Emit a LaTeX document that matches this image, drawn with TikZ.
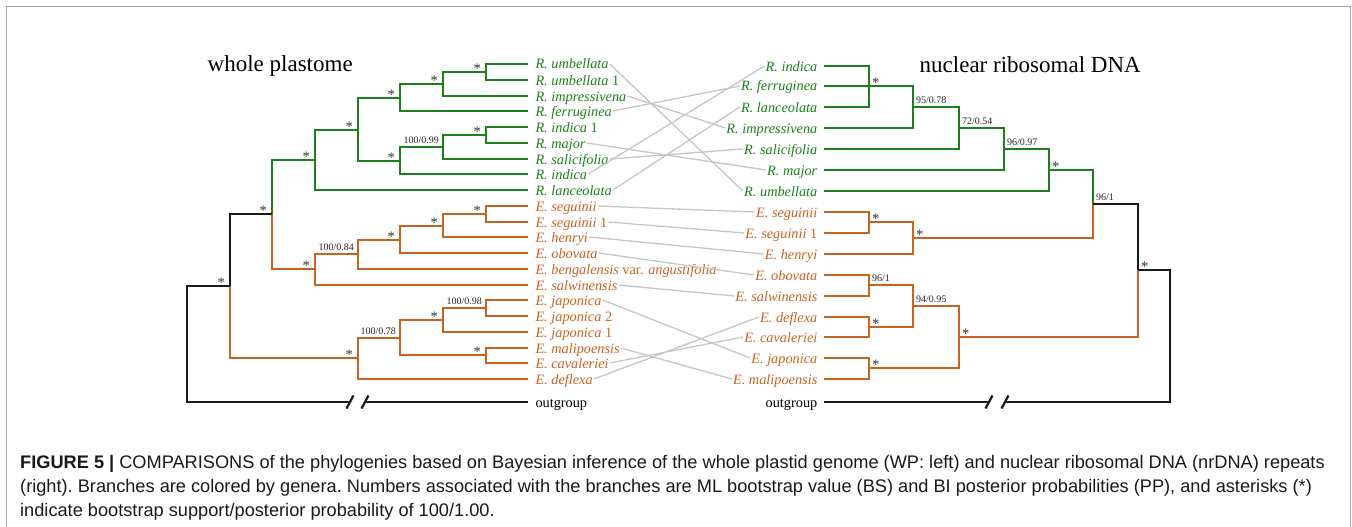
\documentclass[tikz,border=0pt]{standalone}
\usepackage{fontspec}
\setmainfont{Liberation Serif}
\newfontfamily\capfont{Liberation Sans}
\usetikzlibrary{calc}
\definecolor{rgreen}{RGB}{28,128,28}
\definecolor{eorange}{RGB}{202,98,32}
\definecolor{lnk}{RGB}{198,198,198}
\definecolor{frm}{RGB}{165,165,165}
\definecolor{supp}{RGB}{50,50,50}
\tikzset{
  br/.style={line width=2.2pt, line join=miter},
  gbr/.style={br, draw=rgreen},
  obr/.style={br, draw=eorange},
  kbr/.style={br, draw=black!90},
  tax/.style={font=\fontsize{14.3}{16}\selectfont, inner sep=1pt, text height=12pt, text depth=2pt},
  taxL/.style={tax, anchor=west},
  taxR/.style={tax, anchor=east},
  gtx/.style={text=rgreen},
  otx/.style={text=eorange},
  ast/.style={font=\fontsize{14.5}{16}\selectfont, inner sep=0pt, text=supp},
  num/.style={font=\fontsize{10}{12}\selectfont, inner sep=0pt, text=black!85},
  link/.style={draw=lnk, line width=1.3pt},
  brk/.style={line width=2.2pt, draw=black!90},
  ttl/.style={font=\fontsize{23}{26}\selectfont, inner sep=0pt, anchor=base west},
  capline/.style={font=\capfont\fontsize{18.2}{20}\selectfont\frenchspacing, inner sep=0pt, anchor=base west, text=black!90}
}
\begin{document}
\begin{tikzpicture}[x=1pt,y=-1pt]
\useasboundingbox (0,0) rectangle (1352,527);
\draw[frm, line width=1.5pt] (6.5,527) -- (6.5,6.5) -- (1350.5,6.5) -- (1350.5,527);

% titles
\node[ttl] (t1) at (207.5,71) {whole plastome};
\node[ttl] (t2) at (919.5,72.5) {nuclear ribosomal DNA};

% ---------- left tree ----------
\draw[gbr] (528,64) -- (486,64) -- (486,80) -- (528,80);
\draw[gbr] (486,72) -- (443,72) -- (443,96) -- (528,96);
\draw[gbr] (443,84) -- (400,84) -- (400,111) -- (528,111);
\draw[gbr] (528,127) -- (486,127) -- (486,143) -- (528,143);
\draw[gbr] (486,135) -- (443,135) -- (443,159) -- (528,159);
\draw[gbr] (443,147) -- (400,147) -- (400,174) -- (528,174);
\draw[gbr] (400,98) -- (358,98) -- (358,161) -- (400,161);
\draw[gbr] (358,130) -- (315,130) -- (315,190) -- (528,190);
\draw[gbr] (315,160) -- (272,160) -- (272,214);
\draw[obr] (272,214) -- (272,269) -- (315,269);
\draw[obr] (528,206) -- (486,206) -- (486,222) -- (528,222);
\draw[obr] (486,214) -- (443,214) -- (443,237) -- (528,237);
\draw[obr] (443,226) -- (400,226) -- (400,253) -- (528,253);
\draw[obr] (400,240) -- (358,240) -- (358,269) -- (528,269);
\draw[obr] (358,254) -- (315,254) -- (315,285) -- (528,285);
\draw[obr] (528,300) -- (486,300) -- (486,316) -- (528,316);
\draw[obr] (486,308) -- (443,308) -- (443,332) -- (528,332);
\draw[obr] (528,348) -- (486,348) -- (486,363) -- (528,363);
\draw[obr] (443,320) -- (400,320) -- (400,355) -- (486,355);
\draw[obr] (400,338) -- (358,338) -- (358,379) -- (528,379);
\draw[kbr] (272,214) -- (230,214) -- (230,286);
\draw[obr] (230,286) -- (230,358) -- (358,358);
\draw[kbr] (230,286) -- (187,286) -- (187,402) -- (350,402);
\draw[kbr] (365,402) -- (528,402);
\draw[brk] (346.5,408.5) -- (353.5,395.5);
\draw[brk] (361.5,408.5) -- (368.5,395.5);

% left support values
\node[ast, anchor=base east] (sn1) at (481,73.5) {*};
\node[ast, anchor=base east] (sn2) at (438,85.5) {*};
\node[ast, anchor=base east] (sn3) at (395,99.5) {*};
\node[ast, anchor=base east] (sn4) at (481,136.5) {*};
\node[num, anchor=base east] (sn5) at (439,143.7) {100/0.99};
\node[ast, anchor=base east] (sn6) at (395,162.5) {*};
\node[ast, anchor=base east] (sn7) at (353,131.5) {*};
\node[ast, anchor=base east] (sn8) at (310,161.5) {*};
\node[ast, anchor=base east] (sre) at (267,215.5) {*};
\node[ast, anchor=base east] (se1) at (481,215.5) {*};
\node[ast, anchor=base east] (se2) at (438,227.5) {*};
\node[ast, anchor=base east] (se3) at (395,241.5) {*};
\node[num, anchor=base east] (se4) at (354,250.7) {100/0.84};
\node[ast, anchor=base east] (se5) at (310,270.5) {*};
\node[num, anchor=base east] (sf1) at (482,304.7) {100/0.98};
\node[ast, anchor=base east] (sf2) at (438,321.5) {*};
\node[ast, anchor=base east] (sf3) at (481,356.5) {*};
\node[num, anchor=base east] (sf4) at (396,334.7) {100/0.78};
\node[ast, anchor=base east] (sf5) at (353,359.5) {*};
\node[ast, anchor=base east] (sg) at (225,287.5) {*};

% left taxa
\node[taxL, gtx] (lL0) at (534.3,64) {\textit{R. umbellata}};
\node[taxL, gtx] (lL1) at (534.3,80) {\textit{R. umbellata} 1};
\node[taxL, gtx] (lL2) at (534.3,96) {\textit{R. impressivena}};
\node[taxL, gtx] (lL3) at (534.3,111) {\textit{R. ferruginea}};
\node[taxL, gtx] (lL4) at (534.3,127) {\textit{R. indica} 1};
\node[taxL, gtx] (lL5) at (534.3,143) {\textit{R. major}};
\node[taxL, gtx] (lL6) at (534.3,159) {\textit{R. salicifolia}};
\node[taxL, gtx] (lL7) at (534.3,174) {\textit{R. indica}};
\node[taxL, gtx] (lL8) at (534.3,190) {\textit{R. lanceolata}};
\node[taxL, otx] (lL9) at (534.3,206) {\textit{E. seguinii}};
\node[taxL, otx] (lL10) at (534.3,222) {\textit{E. seguinii} 1};
\node[taxL, otx] (lL11) at (534.3,237) {\textit{E. henryi}};
\node[taxL, otx] (lL12) at (534.3,253) {\textit{E. obovata}};
\node[taxL, otx] (lL13) at (534.3,269) {\textit{E. bengalensis} var. \textit{angustifolia}};
\node[taxL, otx] (lL14) at (534.3,285) {\textit{E. salwinensis}};
\node[taxL, otx] (lL15) at (534.3,300) {\textit{E. japonica}};
\node[taxL, otx] (lL16) at (534.3,316) {\textit{E. japonica} 2};
\node[taxL, otx] (lL17) at (534.3,332) {\textit{E. japonica} 1};
\node[taxL, otx] (lL18) at (534.3,348) {\textit{E. malipoensis}};
\node[taxL, otx] (lL19) at (534.3,363) {\textit{E. cavaleriei}};
\node[taxL, otx] (lL20) at (534.3,379) {\textit{E. deflexa}};
\node[taxL] (lOut) at (534.3,402) {outgroup};

% ---------- right tree ----------
\draw[gbr] (824,66) -- (869,66) -- (869,107) -- (824,107);
\draw[gbr] (824,86) -- (913,86) -- (913,128) -- (824,128);
\draw[gbr] (913,107) -- (959,107) -- (959,149) -- (824,149);
\draw[gbr] (959,128) -- (1004,128) -- (1004,170) -- (824,170);
\draw[gbr] (1004,149) -- (1049,149) -- (1049,191) -- (824,191);
\draw[gbr] (1049,170) -- (1093,170) -- (1093,204);
\draw[obr] (1093,204) -- (1093,238) -- (913,238);
\draw[obr] (824,212) -- (869,212) -- (869,233) -- (824,233);
\draw[obr] (869,222) -- (913,222) -- (913,254) -- (824,254);
\draw[obr] (824,275) -- (869,275) -- (869,296) -- (824,296);
\draw[obr] (824,317) -- (869,317) -- (869,337) -- (824,337);
\draw[obr] (869,285) -- (913,285) -- (913,327) -- (869,327);
\draw[obr] (824,358) -- (869,358) -- (869,379) -- (824,379);
\draw[obr] (913,306) -- (959,306) -- (959,368) -- (869,368);
\draw[kbr] (1093,204) -- (1138,204) -- (1138,270);
\draw[obr] (1138,270) -- (1138,337) -- (959,337);
\draw[kbr] (1138,270) -- (1170,270) -- (1170,402) -- (1005,402);
\draw[kbr] (989,402) -- (824,402);
\draw[brk] (985.5,408.5) -- (992.5,395.5);
\draw[brk] (1001.5,408.5) -- (1008.5,395.5);

% right support values
\node[ast, anchor=base west] (sA) at (872,87.5) {*};
\node[num, anchor=base west] (sB) at (916,103.7) {95/0.78};
\node[num, anchor=base west] (sC) at (962,124.7) {72/0.54};
\node[num, anchor=base west] (sD) at (1007,145.7) {96/0.97};
\node[ast, anchor=base west] (sE) at (1052,171.5) {*};
\node[num, anchor=base west] (sF) at (1096,200.7) {96/1};
\node[ast, anchor=base west] (sG) at (1141,271.5) {*};
\node[ast, anchor=base west] (sS1) at (872,223.5) {*};
\node[ast, anchor=base west] (sS2) at (916,239.5) {*};
\node[num, anchor=base west] (sO1) at (872,281.7) {96/1};
\node[ast, anchor=base west] (sO2) at (872,328.5) {*};
\node[num, anchor=base west] (sO3) at (916,302.7) {94/0.95};
\node[ast, anchor=base west] (sJ) at (872,369.5) {*};
\node[ast, anchor=base west] (sO4) at (962,338.5) {*};

% right taxa
\node[taxR, gtx] (rR0) at (818.5,66) {\textit{R. indica}};
\node[taxR, gtx] (rR1) at (818.5,86) {\textit{R. ferruginea}};
\node[taxR, gtx] (rR2) at (818.5,107) {\textit{R. lanceolata}};
\node[taxR, gtx] (rR3) at (818.5,128) {\textit{R. impressivena}};
\node[taxR, gtx] (rR4) at (818.5,149) {\textit{R. salicifolia}};
\node[taxR, gtx] (rR5) at (818.5,170) {\textit{R. major}};
\node[taxR, gtx] (rR6) at (818.5,191) {\textit{R. umbellata}};
\node[taxR, otx] (rR7) at (818.5,212) {\textit{E. seguinii}};
\node[taxR, otx] (rR8) at (818.5,233) {\textit{E. seguinii} 1};
\node[taxR, otx] (rR9) at (818.5,254) {\textit{E. henryi}};
\node[taxR, otx] (rR10) at (818.5,275) {\textit{E. obovata}};
\node[taxR, otx] (rR11) at (818.5,296) {\textit{E. salwinensis}};
\node[taxR, otx] (rR12) at (818.5,317) {\textit{E. deflexa}};
\node[taxR, otx] (rR13) at (818.5,337) {\textit{E. cavaleriei}};
\node[taxR, otx] (rR14) at (818.5,358) {\textit{E. japonica}};
\node[taxR, otx] (rR15) at (818.5,379) {\textit{E. malipoensis}};
\node[taxR] (rOut) at (818.5,402) {outgroup};

% links
\draw[link] (lL0.east) -- (rR6.west);
\draw[link] (lL2.east) -- (rR3.west);
\draw[link] (lL3.east) -- (rR1.west);
\draw[link] (lL5.east) -- (rR5.west);
\draw[link] (lL6.east) -- (rR4.west);
\draw[link] (lL7.east) -- (rR0.west);
\draw[link] (lL8.east) -- (rR2.west);
\draw[link] (lL9.east) -- (rR7.west);
\draw[link] (lL10.east) -- (rR8.west);
\draw[link] (lL11.east) -- (rR9.west);
\draw[link] (lL12.east) -- (rR10.west);
\draw[link] (lL14.east) -- (rR11.west);
\draw[link] (lL15.east) -- (rR14.west);
\draw[link] (lL18.east) -- (rR15.west);
\draw[link] (lL19.east) -- (rR13.west);
\draw[link] (lL20.east) -- (rR12.west);

% caption
\node[capline] (c1) at (20,468) {\textbf{FIGURE 5 |} COMPARISONS of the phylogenies based on Bayesian inference of the whole plastid genome (WP: left) and nuclear ribosomal DNA (nrDNA) repeats};
\node[capline] (c2) at (20,492) {(right). Branches are colored by genera. Numbers associated with the branches are ML bootstrap value (BS) and BI posterior probabilities (PP), and asterisks (*)};
\node[capline] (c3) at (20,516) {indicate bootstrap support/posterior probability of 100/1.00.};
\end{tikzpicture}
\end{document}
